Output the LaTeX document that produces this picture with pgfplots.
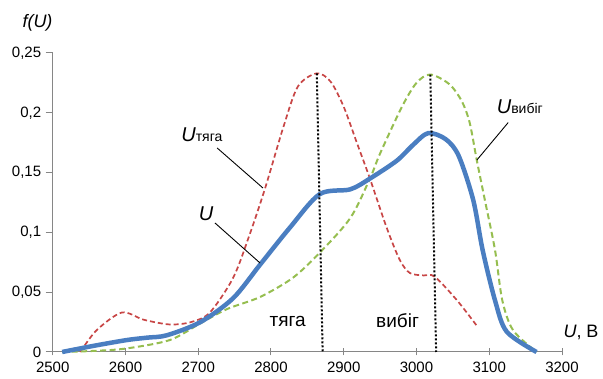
\documentclass[border=0pt]{standalone}
\usepackage{fontspec}
\setmainfont{Liberation Sans}
\usepackage{pgfplots}
\pgfplotsset{compat=1.18}
\definecolor{axgray}{RGB}{134,134,134}
\definecolor{cblue}{RGB}{74,126,193}
\definecolor{cred}{RGB}{200,70,70}
\definecolor{cgreen}{RGB}{150,190,80}
\newcommand{\fs}[1]{\fontsize{#1}{#1}\selectfont}
\begin{document}
\begin{tikzpicture}
\useasboundingbox (0,0) rectangle (603pt,379pt);
\begin{axis}[
  at={(52.7pt,27pt)}, anchor=south west,
  scale only axis, width=509.3pt, height=299pt,
  xmin=2500, xmax=3200, ymin=0, ymax=0.25,
  axis lines*=left,
  axis line style={axgray, line width=1pt},
  xtick={2500,2600,...,3200},
  xticklabels={2500,2600,2700,2800,2900,3000,3100,3200},
  ytick={0,0.05,0.1,0.15,0.2,0.25},
  yticklabels={0,{0,05},{0,1},{0,15},{0,2},{0,25}},
  xtick align=center, ytick align=outside,
  major tick length=7pt,
  tick style={axgray, line width=1pt},
  ticklabel style={font=\fs{15}},
  xticklabel style={yshift=-3pt},
  yticklabel style={xshift=-1pt},
  clip=false,
]
% U_tyaga (red dashed)
\addplot[cred, line width=1.7pt, dash pattern=on 5pt off 3pt, smooth, tension=0.5] coordinates {
(2538,0) (2560,0.018) (2595,0.033) (2625,0.027) (2661,0.023) (2690,0.025) (2716,0.033) (2748,0.062) (2770,0.097) (2792,0.137) (2817,0.188) (2837,0.222) (2863,0.233) (2882,0.226) (2900,0.205) (2918,0.175) (2936,0.145) (2959,0.104) (2977,0.077) (2991,0.066) (3010,0.064) (3025,0.063) (3056,0.043) (3084,0.021)
};
% U_vybig (green dashed)
\addplot[cgreen, line width=2pt, dash pattern=on 6pt off 3.5pt, smooth, tension=0.5] coordinates {
(2513,0) (2560,0.001) (2602,0.003) (2661,0.01) (2703,0.024) (2740,0.036) (2785,0.046) (2830,0.062) (2867,0.083) (2909,0.112) (2936,0.145) (2950,0.166) (2980,0.205) (3000,0.225) (3019,0.232) (3045,0.224) (3062,0.21) (3073,0.192) (3083,0.16) (3094,0.127) (3108,0.085) (3118,0.043) (3133,0.018) (3165,0)
};
% U (blue thick)
\addplot[cblue, line width=4.5pt, smooth, tension=0.5] coordinates {
(2513,0) (2555,0.005) (2602,0.01) (2630,0.012) (2657,0.014) (2703,0.025) (2748,0.045) (2785,0.073) (2826,0.104) (2867,0.132) (2909,0.136) (2936,0.145) (2973,0.16) (2995,0.173) (3016,0.183) (3040,0.178) (3058,0.164) (3078,0.127) (3091,0.085) (3108,0.043) (3124,0.017) (3165,0)
};
% dotted verticals
\addplot[black, line width=2pt, dash pattern=on 2pt off 2pt] coordinates {(2863,0.233) (2871,0)};
\addplot[black, line width=2pt, dash pattern=on 2pt off 2pt] coordinates {(3019,0.232) (3027,0)};
% leader lines
\addplot[black, line width=0.9pt] coordinates {(2726,0.1706) (2789,0.1371)};
\addplot[black, line width=0.9pt] coordinates {(2723,0.1079) (2785,0.0744)};
\addplot[black, line width=0.9pt] coordinates {(3126,0.1918) (3083,0.1605)};
% labels
\node at (axis cs:2705,0.1814) {\fs{20}\itshape U\upshape\fs{14}тяга};
\node at (axis cs:2711,0.1154) {\fs{20}\itshape U};
\node at (axis cs:3142,0.2048) {\fs{20}\itshape U\upshape\fs{14}вибіг};
\node at (axis cs:2823,0.0259) {\fs{19}тяга};
\node at (axis cs:2974,0.0259) {\fs{19}вибіг};
\end{axis}
\node at (37.5pt,356pt) {\fs{18}\itshape f(U)};
\node at (581pt,47pt) {\fs{18}\itshape U\upshape, В};
\end{tikzpicture}
\end{document}
